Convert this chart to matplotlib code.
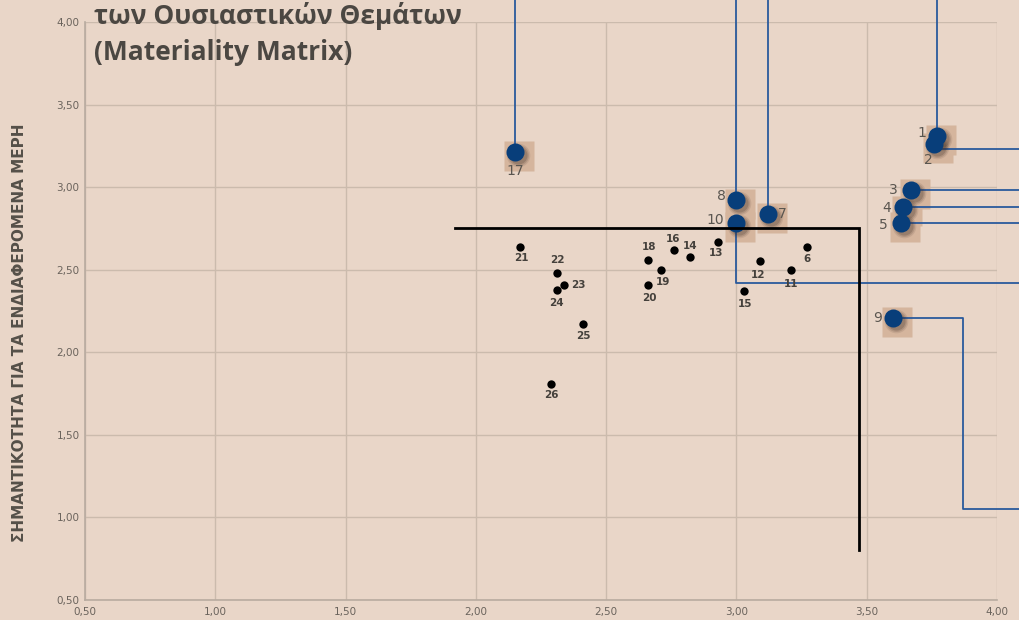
import matplotlib
matplotlib.use("Agg")
import matplotlib.pyplot as plt
from matplotlib.ticker import FuncFormatter, MultipleLocator
from matplotlib.transforms import ScaledTranslation

# ── datos ────────────────────────────────────────────────────────────────
# temas destacados (puntos azules)
big_ids = ['1', '2', '3', '4', '5', '7', '8', '9', '10', '17']
big_x = [3.77, 3.76, 3.67, 3.64, 3.63, 3.12, 3.00, 3.60, 3.00, 2.15]
big_y = [3.31, 3.26, 2.98, 2.88, 2.78, 2.84, 2.92, 2.21, 2.78, 3.21]

# resto de temas (puntos negros)
small_ids = ['6', '11', '12', '13', '14', '15', '16', '18', '19', '20',
             '21', '22', '23', '24', '25', '26']
small_x = [3.27, 3.21, 3.09, 2.93, 2.82, 3.03, 2.76, 2.66, 2.71, 2.66,
           2.17, 2.31, 2.34, 2.31, 2.41, 2.29]
small_y = [2.64, 2.50, 2.55, 2.67, 2.58, 2.37, 2.62, 2.56, 2.50, 2.41,
           2.64, 2.48, 2.41, 2.38, 2.17, 1.81]

# umbral de materialidad
thr_x = [1.92, 3.47, 3.47]
thr_y = [2.75, 2.75, 0.80]

# lineas guia (x, y) que salen fuera del grafico
guides = [
    ([2.15, 2.15], [3.21, 4.5]),
    ([3.00, 3.00], [2.92, 4.5]),
    ([3.12, 3.12], [2.84, 4.5]),
    ([3.77, 3.77], [3.31, 4.5]),
    ([3.76, 4.5], [3.23, 3.23]),
    ([3.67, 4.5], [2.98, 2.98]),
    ([3.64, 4.5], [2.88, 2.88]),
    ([3.63, 4.5], [2.78, 2.78]),
    ([3.00, 3.00, 4.5], [2.78, 2.42, 2.42]),
    ([3.60, 3.87, 3.87, 4.5], [2.21, 2.21, 1.05, 1.05]),
]

BG = '#e9d6c8'
SQ = '#d5b59d'
NAVY = '#083e7a'
LINE = '#2a5a9c'
TXT = '#555049'

# posicion de las etiquetas (offset en px, alineacion)
big_lab = {
    '1': (-11, 3, 'right', 'center'), '2': (-6, -16, 'center', 'center'),
    '3': (-13, 0, 'right', 'center'), '4': (-12, -1, 'right', 'center'),
    '5': (-13, -2, 'right', 'center'), '7': (10, 0, 'left', 'center'),
    '8': (-11, 4, 'right', 'center'), '9': (-11, 0, 'right', 'center'),
    '10': (-12, 3, 'right', 'center'), '17': (0, -19, 'center', 'center'),
}
small_lab = {
    '6': (0, -12), '11': (0, -14), '12': (-2, -14), '13': (-2, -11),
    '14': (1, 11), '15': (1, -13), '16': (-1, 11), '18': (1, 13),
    '19': (2, -12), '20': (2, -13), '21': (1, -11), '22': (1, 13),
    '23': (14, 0), '24': (0, -13), '25': (1, -12), '26': (0, -11),
}

fig = plt.figure(figsize=(10.19, 6.2), dpi=100, facecolor=BG)
ax = fig.add_axes([85 / 1019, 20 / 620, 912 / 1019, 578 / 620], facecolor=BG)
ax.set_xlim(0.5, 4.0)
ax.set_ylim(0.5, 4.0)

def shift(dx, dy):
    return ax.transData + ScaledTranslation(dx / 100, dy / 100, fig.dpi_scale_trans)

# cuadros de fondo
ax.plot(big_x, big_y, 's', ms=21, color=SQ, mec='none', zorder=2,
        transform=shift(4, -4))

# lineas guia
for gx, gy in guides:
    ax.plot(gx, gy, color=LINE, lw=1.3, clip_on=False, zorder=3)

# sombra difusa + punto
for ms, a in [(17, 0.10), (15, 0.15), (13, 0.2)]:
    ax.plot(big_x, big_y, 'o', ms=ms, color='#3b2a20', alpha=a, mec='none',
            zorder=3.5, transform=shift(3, -3))
ax.plot(big_x, big_y, 'o', ms=13, color=NAVY, mec='none', zorder=4)

ax.plot(small_x, small_y, 'o', ms=6, color='black', mec='none', zorder=4)

ax.plot(thr_x, thr_y, color='black', lw=2, zorder=5, solid_joinstyle='miter')

for i, x, y in zip(big_ids, big_x, big_y):
    dx, dy, ha, va = big_lab[i]
    ax.annotate(i, (x, y), xytext=(dx, dy), textcoords='offset pixels',
                ha=ha, va=va, fontsize=10, color='#5a5650', zorder=6)
for i, x, y in zip(small_ids, small_x, small_y):
    dx, dy = small_lab[i]
    ha = 'left' if dx > 10 else 'center'
    if ha == 'left':
        dx = 7
    ax.annotate(i, (x, y), xytext=(dx, dy), textcoords='offset pixels',
                ha=ha, va='center', fontsize=7.5, fontweight='bold',
                color='#45413c', zorder=6)

# ejes
fmt = FuncFormatter(lambda v, p: ('%.2f' % v).replace('.', ','))
ax.xaxis.set_major_locator(MultipleLocator(0.5))
ax.yaxis.set_major_locator(MultipleLocator(0.5))
ax.xaxis.set_major_formatter(fmt)
ax.yaxis.set_major_formatter(fmt)
ax.tick_params(length=0, labelsize=7.5, labelcolor='#6a635c', pad=4)
ax.tick_params(axis='x', pad=5)
ax.grid(color='#cbbbad', lw=1.0)
ax.set_axisbelow(True)
for s in ('top', 'right'):
    ax.spines[s].set_visible(False)
for s in ('left', 'bottom'):
    ax.spines[s].set_color('#b8aba0')
    ax.spines[s].set_linewidth(1.2)

fig.text(20 / 1019, 1 - 333 / 620, 'ΣΗΜΑΝΤΙΚΟΤΗΤΑ ΓΙΑ ΤΑ ΕΝΔΙΑΦΕΡΟΜΕΝΑ ΜΕΡΗ',
         rotation=90, ha='center', va='center', fontsize=11, fontweight='bold',
         color=TXT)

fig.text(94 / 1019, 1 - 24 / 620, 'των Ουσιαστικών Θεμάτων', fontsize=19,
         fontweight='bold', color='#4b4742', va='baseline', family='Open Sans')
fig.text(94 / 1019, 1 - 60 / 620, '(Materiality Matrix)', fontsize=19,
         fontweight='bold', color='#4b4742', va='baseline', family='Open Sans')

fig.savefig('out.png', dpi=100, facecolor=BG)
